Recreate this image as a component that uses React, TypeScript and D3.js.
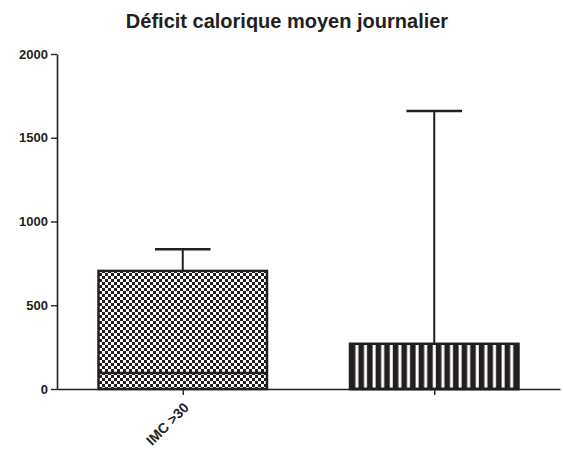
import React, { useEffect, useRef } from 'react';
import * as d3 from 'd3';

// box-and-whisker summary per group
const categories = ['IMC >30', ''];
const boxLow = [0, 0];
const boxMedian = [95, 0];
const boxHigh = [705, 270];
const whiskerHigh = [835, 1660];
const yTicks = [0, 500, 1000, 1500, 2000];
const title = 'Déficit calorique moyen journalier';

const W = 563;
const H = 457;
const INK = '#231f20';
const FONT = 'Liberation Sans, Arial, sans-serif';

export default function App() {
  const ref = useRef<SVGSVGElement>(null);

  useEffect(() => {
    if (!ref.current) return;
    const svg = d3.select(ref.current);
    svg.selectAll('*').remove();

    const left = 57;
    const right = 560;
    const top = 54;
    const bottom = 389;

    const x = d3.scalePoint<string>().domain(categories.map((c, i) => c + '#' + i)).range([left, right]).padding(0.5);
    const y = d3.scaleLinear().domain([0, 2000]).range([bottom, top]);
    const boxW = x.step() * 0.67;
    const capW = boxW * 0.33;

    const defs = svg.append('defs');
    // checkerboard for first group
    const chk = defs
      .append('pattern')
      .attr('id', 'checker')
      .attr('patternUnits', 'userSpaceOnUse')
      .attr('width', 6)
      .attr('height', 6);
    chk.append('rect').attr('width', 6).attr('height', 6).attr('fill', '#fff');
    chk.append('rect').attr('width', 3).attr('height', 3).attr('fill', INK);
    chk.append('rect').attr('x', 3).attr('y', 3).attr('width', 3).attr('height', 3).attr('fill', INK);

    // vertical stripes for second group
    const x2 = x(categories[1] + '#1')! - boxW / 2;
    const stripe = defs
      .append('pattern')
      .attr('id', 'stripes')
      .attr('patternUnits', 'userSpaceOnUse')
      .attr('x', x2)
      .attr('width', 8.6)
      .attr('height', 10);
    stripe.append('rect').attr('width', 8.6).attr('height', 10).attr('fill', INK);
    stripe.append('rect').attr('x', 5.4).attr('width', 3).attr('height', 10).attr('fill', '#fff');

    const fills = ['url(#checker)', 'url(#stripes)'];

    svg
      .append('text')
      .attr('x', 287)
      .attr('y', 28)
      .attr('text-anchor', 'middle')
      .attr('font-family', FONT)
      .attr('font-weight', 'bold')
      .attr('font-size', 20)
      .attr('fill', INK)
      .text(title);

    const g = svg.append('g');
    categories.forEach((c, i) => {
      const cx = x(c + '#' + i)!;
      // whisker
      g.append('line')
        .attr('x1', cx).attr('x2', cx)
        .attr('y1', y(boxHigh[i])).attr('y2', y(whiskerHigh[i]))
        .attr('stroke', INK).attr('stroke-width', 2);
      g.append('line')
        .attr('x1', cx - capW / 2).attr('x2', cx + capW / 2)
        .attr('y1', y(whiskerHigh[i])).attr('y2', y(whiskerHigh[i]))
        .attr('stroke', INK).attr('stroke-width', 2.5);
      // box
      g.append('rect')
        .attr('x', cx - boxW / 2)
        .attr('y', y(boxHigh[i]))
        .attr('width', boxW)
        .attr('height', y(boxLow[i]) - y(boxHigh[i]))
        .attr('fill', fills[i])
        .attr('stroke', INK)
        .attr('stroke-width', 2.5);
      // median
      g.append('line')
        .attr('x1', cx - boxW / 2).attr('x2', cx + boxW / 2)
        .attr('y1', y(boxMedian[i])).attr('y2', y(boxMedian[i]))
        .attr('stroke', INK).attr('stroke-width', 2.5);
    });

    const yAxis = svg
      .append('g')
      .attr('transform', `translate(${left},0)`)
      .call(d3.axisLeft(y).tickValues(yTicks).tickSize(6).tickSizeOuter(0).tickPadding(3).tickFormat(d3.format('d')));
    yAxis.select('.domain').attr('stroke', INK).attr('stroke-width', 1.6);
    yAxis.selectAll('.tick line').attr('stroke', INK).attr('stroke-width', 1.4);
    yAxis
      .selectAll('.tick text')
      .attr('font-family', FONT)
      .attr('font-weight', 'bold')
      .attr('font-size', 13)
      .attr('fill', INK);

    const xAxis = svg
      .append('g')
      .attr('transform', `translate(0,${bottom})`)
      .call(d3.axisBottom(x).tickSize(6).tickSizeOuter(0).tickFormat((d) => d.split('#')[0]));
    xAxis.select('.domain').attr('stroke', INK).attr('stroke-width', 1.6);
    xAxis.selectAll('.tick line').attr('stroke', INK).attr('stroke-width', 1.4);
    xAxis
      .selectAll('.tick text')
      .attr('font-family', FONT)
      .attr('font-weight', 'bold')
      .attr('font-size', 14)
      .attr('fill', INK)
      .attr('text-anchor', 'end')
      .attr('dy', '0.35em')
      .attr('transform', 'translate(3,16) rotate(-45)')
      .attr('y', 0)
      .attr('x', 0);
  }, []);

  return (
    <svg
      ref={ref}
      width={W}
      height={H}
      style={{ position: 'absolute', left: 0, top: 0, background: '#fff' }}
    />
  );
}
